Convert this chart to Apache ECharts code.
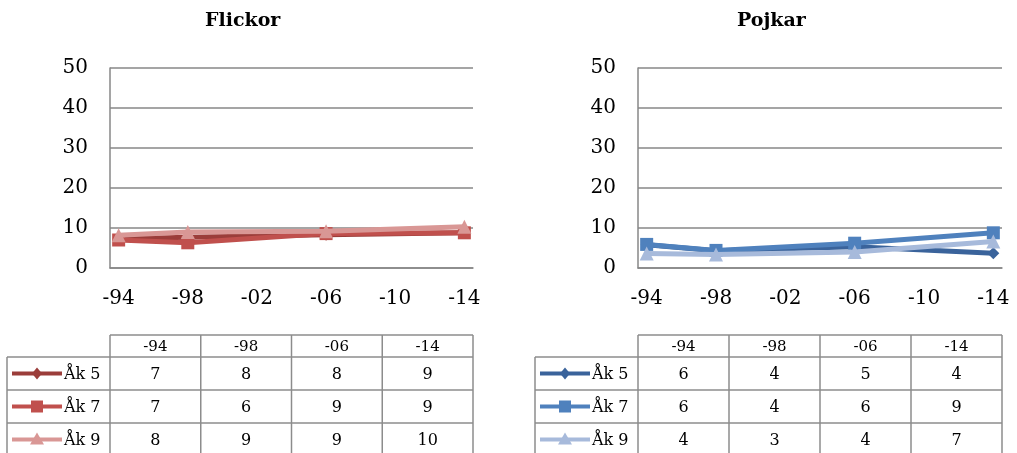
<!DOCTYPE html>
<html>
<head>
<meta charset="utf-8">
<script src="https://cdn.jsdelivr.net/npm/echarts@6/dist/echarts.min.js"></script>
<style>
  html, body { margin: 0; padding: 0; background: #fff; }
  #chart { width: 1017px; height: 453px; }
</style>
</head>
<body>
<div id="chart"></div>
<script>
// data
const categories = ['-94', '-95', '-96', '-97', '-98', '-99', '-00', '-01', '-02', '-03', '-04',
  '-05', '-06', '-07', '-08', '-09', '-10', '-11', '-12', '-13', '-14'];
const years = ['-94', '-98', '-06', '-14'];
const seriesNames = ['Åk 5', 'Åk 7', 'Åk 9'];
// plotted values
const flickor5 = [7.3, 7.7, 8.3, 8.8];
const flickor7 = [7.0, 6.3, 8.6, 8.8];
const flickor9 = [8.2, 9.0, 9.2, 10.3];
const pojkar5 = [5.8, 4.3, 5.3, 3.7];
const pojkar7 = [5.9, 4.4, 6.2, 8.8];
const pojkar9 = [3.6, 3.4, 4.0, 6.6];
// values printed in the tables
const flickorTable5 = [7, 8, 8, 9];
const flickorTable7 = [7, 6, 9, 9];
const flickorTable9 = [8, 9, 9, 10];
const pojkarTable5 = [6, 4, 5, 4];
const pojkarTable7 = [6, 4, 6, 9];
const pojkarTable9 = [4, 3, 4, 7];
const yTicks = [0, 10, 20, 30, 40, 50];

const redColors = ['#9b3d3a', '#c0504d', '#d99795'];
const blueColors = ['#3a639b', '#4f81bd', '#a7badb'];
const symbols = ['diamond', 'rect', 'triangle'];
const symbolSizes = [12, 13, 14];

const FONT = '"DejaVu Serif", serif';
const GRID_COLOR = '#878787';

// layout
const grids = [
  { left: 110, top: 68, width: 363, height: 200, labelLeft: 7 },
  { left: 638, top: 68, width: 364, height: 200, labelLeft: 535 },
];
const tableTop = 335, headerH = 22, rowH = 33;

let myChart = echarts.init(document.getElementById('chart'));

function pairs(vals) {
  return years.map((y, i) => [y, vals[i]]);
}

function lineSeries(idx, name, vals, color, i) {
  return {
    name: name,
    type: 'line',
    xAxisIndex: idx,
    yAxisIndex: idx,
    data: pairs(vals),
    symbol: symbols[i],
    symbolSize: symbolSizes[i],
    showAllSymbol: true,
    lineStyle: { color: color, width: 5 },
    itemStyle: { color: color },
    animation: false,
    z: 3 + i,
  };
}

function markerShape(sym, cx, cy, color) {
  if (sym === 'diamond') {
    return { type: 'polygon', shape: { points: [[cx, cy - 6], [cx + 5, cy], [cx, cy + 6], [cx - 5, cy]] }, style: { fill: color } };
  }
  if (sym === 'rect') {
    return { type: 'rect', shape: { x: cx - 6, y: cy - 6, width: 12, height: 12 }, style: { fill: color } };
  }
  return { type: 'polygon', shape: { points: [[cx, cy - 7], [cx + 7, cy + 5], [cx - 7, cy + 5]] }, style: { fill: color } };
}

function buildTable(g, rows, colors) {
  const els = [];
  const x0 = g.labelLeft, xa = g.left, xb = g.left + g.width;
  const colW = g.width / years.length;
  const bodyTop = tableTop + headerH;
  const bottom = bodyTop + rowH * rows.length;
  const line = (x1, y1, x2, y2) => els.push({
    type: 'line', shape: { x1: x1, y1: y1, x2: x2, y2: y2 },
    style: { stroke: '#8c8c8c', lineWidth: 1.5 }, silent: true,
  });
  const text = (t, x, y, size, align) => els.push({
    type: 'text', x: x, y: y,
    style: { text: t, fill: '#000', font: size + 'px ' + FONT, align: align || 'center', verticalAlign: 'middle' },
    silent: true,
  });
  // horizontal borders
  line(xa, tableTop, xb, tableTop);
  line(x0, bodyTop, xb, bodyTop);
  for (let r = 1; r <= rows.length; r++) line(x0, bodyTop + rowH * r, xb, bodyTop + rowH * r);
  // vertical borders
  line(x0, bodyTop, x0, bottom);
  for (let c = 0; c <= years.length; c++) line(xa + colW * c, tableTop, xa + colW * c, bottom);
  // header
  years.forEach((y, c) => text(y, xa + colW * (c + 0.5), tableTop + headerH / 2 + 1, 15));
  // rows
  rows.forEach((vals, r) => {
    const cy = bodyTop + rowH * (r + 0.5);
    els.push({ type: 'line', shape: { x1: x0 + 5, y1: cy, x2: x0 + 55, y2: cy },
      style: { stroke: colors[r], lineWidth: 4 }, silent: true });
    els.push(markerShape(symbols[r], x0 + 30, cy, colors[r]));
    text(seriesNames[r], x0 + 57, cy + 1, 16, 'left');
    vals.forEach((v, c) => text(String(v), xa + colW * (c + 0.5), cy + 1, 16));
  });
  return els;
}

function xAxis(idx) {
  return {
    type: 'category',
    gridIndex: idx,
    data: categories,
    boundaryGap: true,
    axisLine: { lineStyle: { color: GRID_COLOR, width: 1.5 } },
    axisTick: { show: false },
    axisLabel: { interval: 3, color: '#000', fontFamily: FONT, fontSize: 20, margin: 21 },
    splitLine: { show: false },
  };
}

function yAxis(idx) {
  return {
    type: 'value',
    gridIndex: idx,
    min: yTicks[0],
    max: yTicks[yTicks.length - 1],
    interval: 10,
    axisLine: { show: true, lineStyle: { color: GRID_COLOR, width: 1.5 } },
    axisTick: { show: false },
    axisLabel: { color: '#000', fontFamily: FONT, fontSize: 20, margin: 22 },
    splitLine: { lineStyle: { color: GRID_COLOR, width: 1.5 } },
  };
}

let option = {
  animation: false,
  title: [
    { text: 'Flickor', left: 200, top: 7, textStyle: { fontFamily: FONT, fontSize: 19, fontWeight: 'bold', color: '#000' } },
    { text: 'Pojkar', left: 732, top: 7, textStyle: { fontFamily: FONT, fontSize: 19, fontWeight: 'bold', color: '#000' } },
  ],
  grid: grids.map(g => ({ left: g.left, top: g.top, width: g.width, height: g.height })),
  xAxis: [xAxis(0), xAxis(1)],
  yAxis: [yAxis(0), yAxis(1)],
  series: [
    lineSeries(0, seriesNames[0], flickor5, redColors[0], 0),
    lineSeries(0, seriesNames[1], flickor7, redColors[1], 1),
    lineSeries(0, seriesNames[2], flickor9, redColors[2], 2),
    lineSeries(1, seriesNames[0], pojkar5, blueColors[0], 0),
    lineSeries(1, seriesNames[1], pojkar7, blueColors[1], 1),
    lineSeries(1, seriesNames[2], pojkar9, blueColors[2], 2),
  ],
  graphic: [
    ...buildTable(grids[0], [flickorTable5, flickorTable7, flickorTable9], redColors),
    ...buildTable(grids[1], [pojkarTable5, pojkarTable7, pojkarTable9], blueColors),
  ],
};
myChart.setOption(option);
</script>
</body>
</html>
